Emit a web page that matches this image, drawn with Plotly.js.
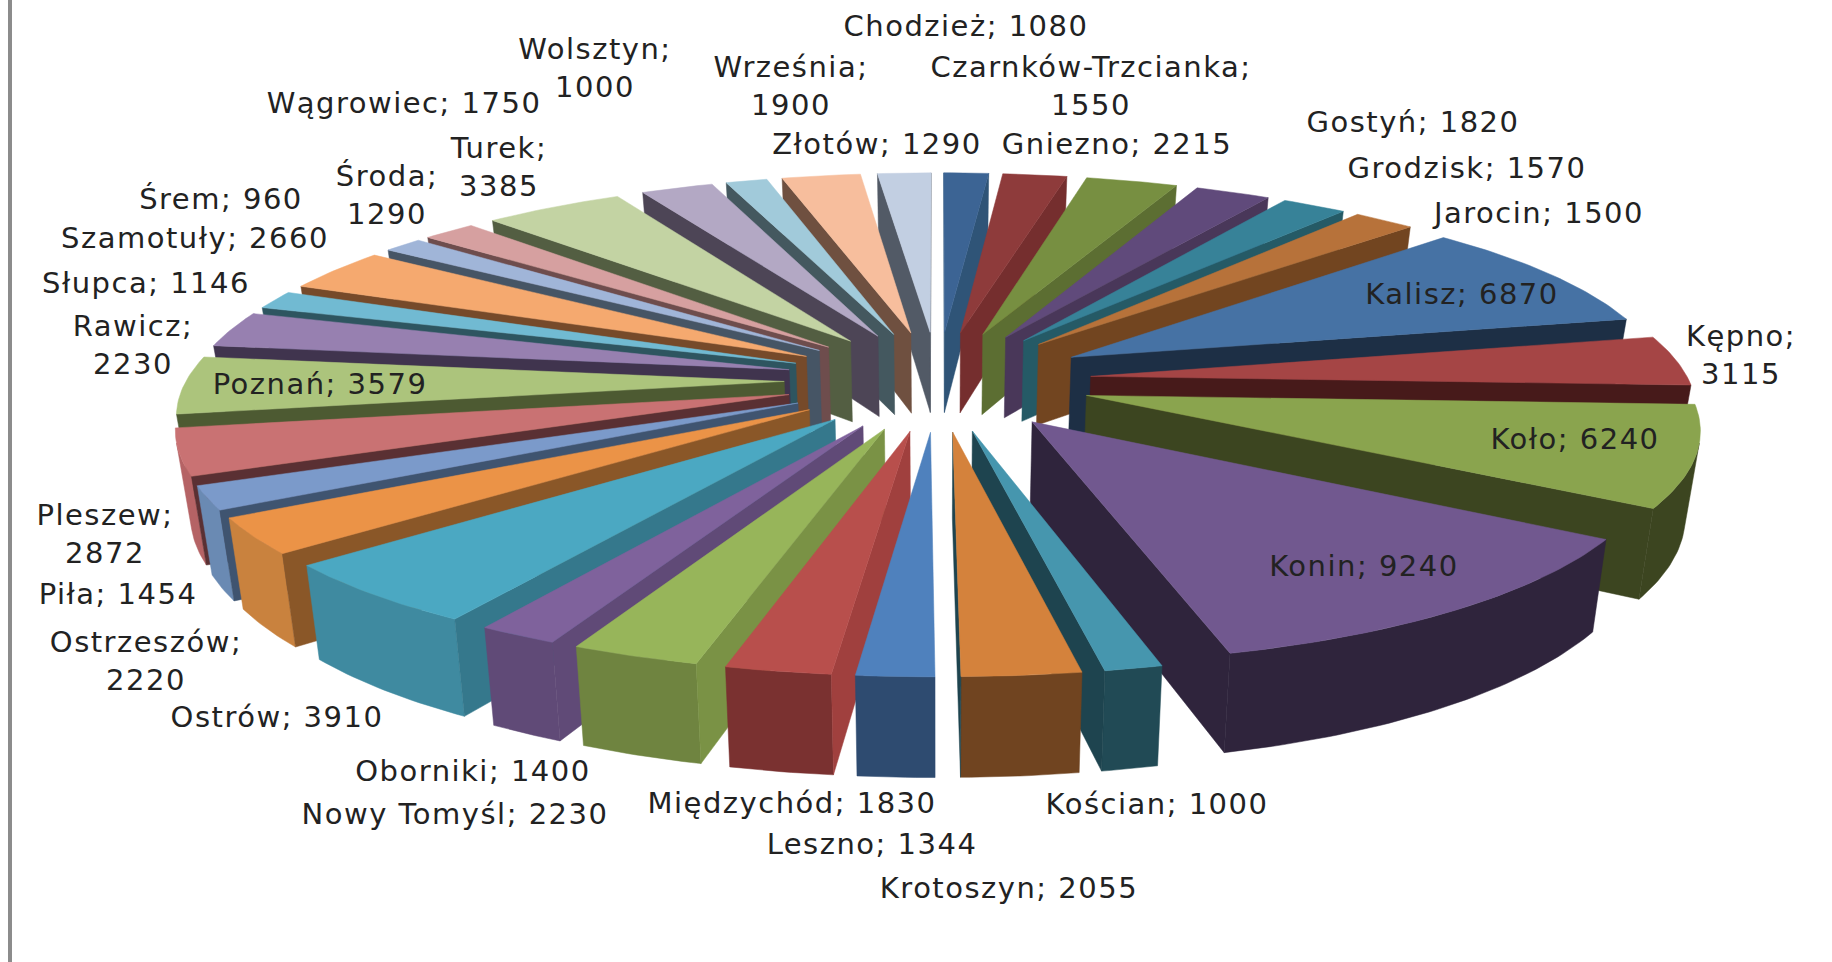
<!DOCTYPE html>
<html>
<head>
<meta charset="utf-8">
<script src="https://cdn.plot.ly/plotly-3.0.1.min.js"></script>
<style>
html,body{margin:0;padding:0;background:#fff;}
#chart{width:1832px;height:962px;}
.textpoint text{letter-spacing:1.5px;}
</style>
</head>
<body>
<div id="chart"></div>
<script>
const categories = ["Chodzież","Czarnków-Trzcianka","Gniezno","Gostyń","Grodzisk","Jarocin","Kalisz","Kępno","Koło","Konin","Kościan","Krotoszyn","Leszno","Międzychód","Nowy Tomyśl","Oborniki","Ostrów","Ostrzeszów","Piła","Pleszew","Poznań","Rawicz","Słupca","Szamotuły","Śrem","Środa","Turek","Wągrowiec","Wolsztyn","Września","Złotów"];
const values = [1080,1550,2215,1820,1570,1500,6870,3115,6240,9240,1000,2055,1344,1830,2230,1400,3910,2220,1454,2872,3579,2230,1146,2660,960,1290,3385,1750,1000,1900,1290];
const wrappedLabels = ["Czarnków-Trzcianka","Kępno","Ostrzeszów","Pleszew","Rawicz","Środa","Turek","Wolsztyn","Września"];
const topColors = ["#3C6494","#8E3B3B","#778F41","#604A7B","#378298","#B7723A","#4672A4","#A54545","#8AA44E","#71588F","#4696AE","#D4823C","#4F81BD","#B84F4C","#97B55A","#7F629C","#4BA8C2","#EB9347","#7B9ACA","#C97273","#ACC47C","#9780B0","#71BAD2","#F5A96F","#A0B5D8","#D6A0A0","#C3D3A3","#B3A8C4","#A1CADA","#F7BE9D","#C2CFE2"];
const cutColors = ["#2F5477","#752E2E","#5C6E32","#493759","#255A66","#724520","#1D2F45","#471A1A","#3C4520","#2F243C","#1E444F","#1E444F","#3F6A9E","#A0403E","#7A9245","#604A77","#35788C","#8A5728","#3F5470","#5A3033","#4D5A32","#40344E","#2E5560","#764A2A","#465565","#6E4D4D","#535E42","#4D4556","#44585F","#6F5040","#525A66"];
const outerColors = ["#2F5477","#752E2E","#5C6E32","#493759","#255A66","#724520","#1D2F45","#471A1A","#3C4520","#2F243C","#214A55","#704420","#2E4B70","#7A3130","#6F8440","#604A77","#3F8AA0","#C9823E","#6A8AB3","#B56365","#4D5A32","#40344E","#2E5560","#764A2A","#465565","#6E4D4D","#535E42","#4D4556","#44585F","#6F5040","#525A66"];
const labelX = [966,1091,1117,1413,1467,1539,1462,1741,1575,1364,1157,1009,872,792,455,473,277,146,118,105,320,133,146,195,221,387,499,404,595,791,877];
const labelY = [29,89,147,125,171,216,297,358,442,569,807,891,847,806,817,774,720,664,597,537,387,348,286,241,202,198,170,106,71,89,147];

// pie view settings
const cx = 938, cy = 380.5, Sx = 598, Sy = 194.3, persp = 0.14, explode = 0.257, depth = 83, taper = 0.98;

const total = values.reduce((a, b) => a + b, 0);
function proj(X, Y, bottom) {
  const w = 1 - persp * Y;
  let sx = cx + Sx * X / w, sy = cy + Sy * Y / w;
  if (bottom) { sx = cx + (sx - cx) * taper; sy += depth / w; }
  return [sx, sy];
}
function area(p) {
  let s = 0;
  for (let i = 0; i < p.length; i++) {
    const q = p[(i + 1) % p.length];
    s += p[i][0] * q[1] - q[0] * p[i][1];
  }
  return s / 2;
}
function face(poly, color) {
  const xs = poly.map(p => p[0]), ys = poly.map(p => p[1]);
  xs.push(xs[0]); ys.push(ys[0]);
  return {type:"scatter", mode:"lines", x:xs, y:ys, fill:"toself", fillcolor:color,
          line:{color:color, width:0.5}, hoverinfo:"skip", showlegend:false};
}
let cum = 0;
const slices = values.map((v, i) => {
  const a0 = cum / total * 2 * Math.PI;
  cum += v;
  const a1 = cum / total * 2 * Math.PI;
  const mid = (a0 + a1) / 2;
  return {i, a0, a1, tx: explode * Math.sin(mid), ty: -explode * Math.cos(mid)};
});
const traces = [];
slices.slice().sort((a, b) => a.ty - b.ty).forEach(s => {
  const pt = (ang, bottom) => proj(s.tx + Math.sin(ang), s.ty - Math.cos(ang), bottom);
  const tipT = proj(s.tx, s.ty, false), tipB = proj(s.tx, s.ty, true);
  const n = Math.max(2, Math.ceil((s.a1 - s.a0) / 0.015));
  const angs = [];
  for (let k = 0; k <= n; k++) angs.push(s.a0 + (s.a1 - s.a0) * k / n);
  // outer wall: only the part of the arc facing the viewer
  const vis = [];
  for (let k = 0; k < n; k++) {
    const q = [pt(angs[k], false), pt(angs[k + 1], false), pt(angs[k + 1], true), pt(angs[k], true)];
    if (area(q) < 0) { if (!vis.length) vis.push(angs[k]); vis.push(angs[k + 1]); }
  }
  if (vis.length) {
    const poly = vis.map(a => pt(a, false)).concat(vis.slice().reverse().map(a => pt(a, true)));
    traces.push(face(poly, outerColors[s.i]));
  }
  const q0 = [pt(s.a0, false), tipT, tipB, pt(s.a0, true)];
  if (area(q0) > 0) traces.push(face(q0, cutColors[s.i]));
  const q1 = [pt(s.a1, false), tipT, tipB, pt(s.a1, true)];
  if (area(q1) < 0) traces.push(face(q1, cutColors[s.i]));
  traces.push(face([tipT].concat(angs.map(a => pt(a, false))), topColors[s.i]));
});
const labelText = categories.map((c, i) =>
  c + ";" + (wrappedLabels.includes(c) ? "<br>" : " ") + values[i]);
traces.push({type:"scatter", mode:"text", x:labelX, y:labelY, text:labelText,
  textposition:"middle center", hoverinfo:"skip", showlegend:false, cliponaxis:false,
  textfont:{family:"'DejaVu Sans', sans-serif", size:29, color:"#222222"}});

Plotly.newPlot("chart", traces, {
  width:1832, height:962, margin:{l:0,r:0,t:0,b:0},
  paper_bgcolor:"#ffffff", plot_bgcolor:"#ffffff", showlegend:false,
  xaxis:{range:[0,1832], visible:false, fixedrange:true},
  yaxis:{range:[962,0], visible:false, fixedrange:true},
  shapes:[{type:"line", xref:"x", yref:"y", x0:10, x1:10, y0:0, y1:962, line:{color:"#8C8C8C", width:4}}]
}, {displayModeBar:false, staticPlot:true});
</script>
</body>
</html>
